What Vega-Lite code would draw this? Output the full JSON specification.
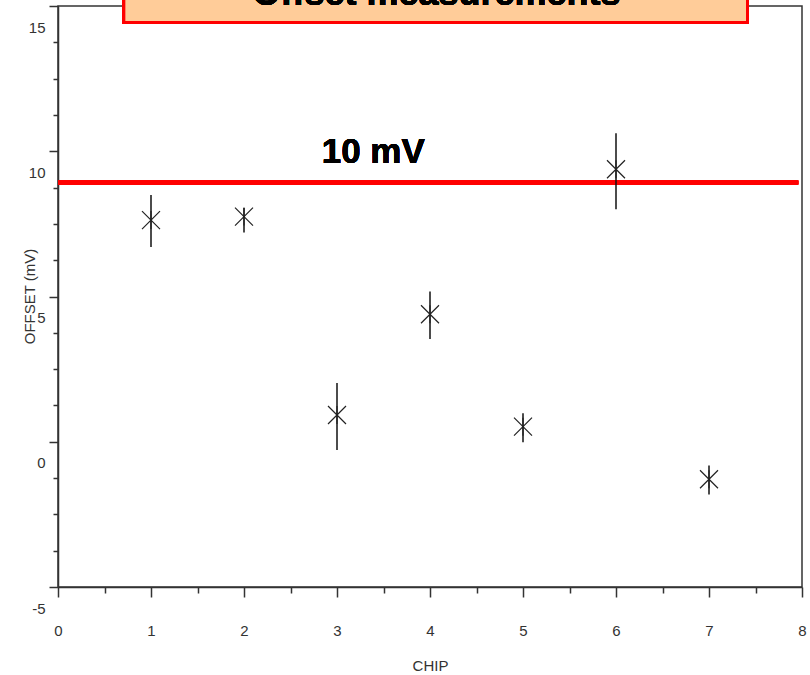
{
  "$schema": "https://vega.github.io/schema/vega-lite/v6.json",
  "autosize": {"type": "none"},
  "padding": {"left": 58, "top": 6, "right": 8, "bottom": 88},
  "width": 744,
  "height": 581,
  "background": "white",
  "config": {
    "view": {"stroke": "#333333", "strokeWidth": 1.5},
    "font": "Liberation Sans"
  },
  "datasets": {
    "chips": [
      {"chip": 1, "offset": 7.63, "low": 6.70, "high": 8.49},
      {"chip": 2, "offset": 7.75, "low": 7.20, "high": 8.05},
      {"chip": 3, "offset": 0.92, "low": -0.28, "high": 2.02},
      {"chip": 4, "offset": 4.39, "low": 3.54, "high": 5.17},
      {"chip": 5, "offset": 0.52, "low": -0.02, "high": 0.98},
      {"chip": 6, "offset": 9.38, "low": 8.00, "high": 10.62},
      {"chip": 7, "offset": -1.29, "low": -1.82, "high": -0.82}
    ]
  },
  "data": {"name": "chips"},
  "encoding": {
    "x": {
      "field": "chip",
      "type": "quantitative",
      "title": "CHIP",
      "scale": {"domain": [0, 8], "nice": false, "zero": false},
      "axis": {
        "values": [0, 0.5, 1, 1.5, 2, 2.5, 3, 3.5, 4, 4.5, 5, 5.5, 6, 6.5, 7, 7.5, 8],
        "grid": false,
        "domainColor": "#333333",
        "domainWidth": 1.5,
        "tickColor": "#333333",
        "tickWidth": 1.5,
        "tickSize": {"condition": {"test": "datum.value % 1 === 0", "value": 10}, "value": 6},
        "labelExpr": "datum.value % 1 === 0 ? '' + datum.value : ''",
        "labelFontSize": 15,
        "labelColor": "#333333",
        "labelPadding": 26,
        "labelFlush": false,
        "labelOverlap": false,
        "titleFontSize": 15,
        "titleFontWeight": "normal",
        "titleColor": "#333333",
        "titlePadding": 20
      }
    },
    "y": {
      "field": "offset",
      "type": "quantitative",
      "title": "OFFSET (mV)",
      "scale": {"domain": [-5, 15], "nice": false, "zero": false},
      "axis": {
        "values": [-5, -3.75, -2.5, -1.25, 0, 1.25, 2.5, 3.75, 5, 6.25, 7.5, 8.75, 10, 11.25, 12.5, 13.75, 15],
        "grid": false,
        "domainColor": "#333333",
        "domainWidth": 1.5,
        "tickColor": "#333333",
        "tickWidth": 1.5,
        "tickSize": {"condition": {"test": "datum.value % 5 === 0", "value": 9}, "value": 5},
        "labelExpr": "datum.value % 5 === 0 ? '' + datum.value : ''",
        "labelFontSize": 15,
        "labelColor": "#333333",
        "labelOffset": 21,
        "labelPadding": 4,
        "labelFlush": false,
        "labelOverlap": false,
        "titleFontSize": 15,
        "titleFontWeight": "normal",
        "titleColor": "#333333",
        "titleX": -29,
        "titleY": 290,
        "titleBaseline": "middle",
        "titleAlign": "center",
        "titleAngle": -90
      }
    }
  },
  "layer": [
    {
      "mark": {"type": "rule", "color": "#ff0000", "strokeWidth": 4},
      "encoding": {
        "x": {"datum": 0, "type": "quantitative"},
        "x2": {"datum": 7.96},
        "y": {"datum": 8.92, "type": "quantitative"}
      }
    },
    {
      "mark": {"type": "text", "text": "10 mV", "fontSize": 35, "fontWeight": "bold", "color": "#000000", "align": "center", "baseline": "alphabetic"},
      "encoding": {
        "x": {"datum": 3.39, "type": "quantitative"},
        "y": {"datum": 9.6, "type": "quantitative"}
      }
    },
    {
      "mark": {"type": "rule", "color": "#111111", "strokeWidth": 1.5},
      "encoding": {
        "y": {"field": "low", "type": "quantitative"},
        "y2": {"field": "high"}
      }
    },
    {
      "mark": {"type": "point", "shape": "M-1,-1L1,1M-1,1L1,-1M0,-1L0,1", "filled": false, "stroke": "#222222", "strokeWidth": 1.2, "size": 324, "opacity": 1}
    },
    {
      "mark": {"type": "rect", "fill": "#ffcc99", "stroke": "#ff0000", "strokeWidth": 3},
      "encoding": {
        "x": {"datum": 0.708, "type": "quantitative"},
        "x2": {"datum": 7.414},
        "y": {"datum": 15.6, "type": "quantitative"},
        "y2": {"datum": 14.43}
      }
    },
    {
      "mark": {"type": "text", "text": "Offset measurements", "fontSize": 36, "fontWeight": "bold", "color": "#000000", "align": "center", "baseline": "alphabetic"},
      "encoding": {
        "x": {"datum": 4.07, "type": "quantitative"},
        "y": {"datum": 15.03, "type": "quantitative"}
      }
    }
  ]
}
